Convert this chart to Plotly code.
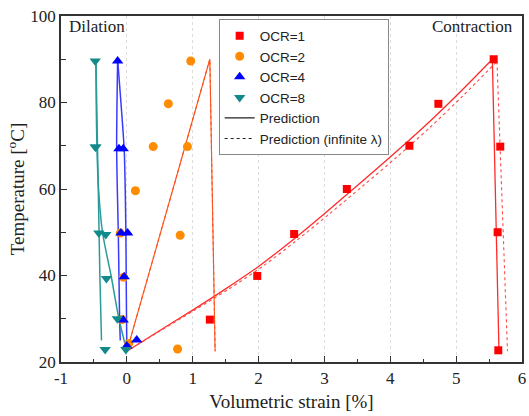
import plotly.graph_objects as go

# Measured volumetric strain [%] vs temperature [°C] for each OCR
ocr1_x = [1.26, 1.98, 2.54, 3.34, 4.29, 4.73, 5.57, 5.67, 5.63, 5.64]
ocr1_y = [29.8, 39.9, 49.6, 60.0, 70.0, 79.7, 90.0, 69.8, 50.0, 22.7]

ocr2_x = [0.03, -0.07, -0.05, -0.10, 0.13, 0.40, 0.63, 0.97, 0.92, 0.81, 0.77]
ocr2_y = [24.3, 29.8, 39.6, 49.8, 59.6, 69.8, 79.7, 89.6, 69.8, 49.3, 23.0]

ocr4_x = [0.00, 0.15, -0.056, -0.04, -0.09, 0.012, -0.12, -0.055, -0.14]
ocr4_y = [23.7, 25.1, 29.7, 39.7, 49.8, 49.8, 69.3, 69.3, 89.6]

ocr8_x = [-0.015, -0.33, -0.145, -0.31, -0.425, -0.32, -0.48, -0.47, -0.48]
ocr8_y = [22.9, 22.9, 30.0, 39.3, 49.8, 49.5, 69.7, 69.7, 89.6]

# Model predictions: heating branches (smooth) and cooling branches
heat1_x = [0, 0.5, 1.0, 1.5, 2.0, 2.5, 3.0, 3.5, 4.0, 4.5, 5.0, 5.55]
heat1_y = [22.5, 27.3, 32.0, 36.9, 42.1, 48.0, 54.3, 60.8, 67.4, 74.2, 81.5, 90.0]
cool1_x = [5.55, 5.65]
cool1_y = [90.0, 22.8]

heat1_inf_x = [0, 0.52, 1.03, 1.55, 2.06, 2.57, 3.08, 3.59, 4.1, 4.6, 5.1, 5.62]
heat1_inf_y = [22.5, 27.3, 32.0, 36.9, 42.1, 48.0, 54.3, 60.8, 67.4, 74.2, 81.5, 89.5]
cool1_inf_x = [5.62, 5.78]
cool1_inf_y = [89.5, 22.5]

pred2_x = [0, 1.26, 1.34]
pred2_y = [22.5, 90.0, 22.5]

heat4_x = [0, -0.005, -0.01, -0.015, -0.025, -0.04, -0.09, -0.14]
heat4_y = [22.5, 30, 40, 50, 60, 69, 80, 90]
cool4_x = [-0.14, -0.155, -0.145, -0.13, -0.11, -0.10]
cool4_y = [90, 70, 60, 50, 30, 25]

heat8_x = [0, -0.12, -0.24, -0.37, -0.43, -0.455, -0.465, -0.47]
heat8_y = [22.5, 30, 40, 50, 60, 70, 80, 90]
cool8_x = [-0.47, -0.45, -0.43, -0.41, -0.385]
cool8_y = [90, 70, 50, 40, 25]

x_ticks = [-1, 0, 1, 2, 3, 4, 5, 6]
y_ticks = [20, 40, 60, 80, 100]

RED = "#ff0000"
ORANGE = "#ff8c00"
BLUE = "#0000ff"
TEAL = "#138a8a"


def curve(x, y, color, width, dash="solid", smooth=False):
    return go.Scatter(x=x, y=y, mode="lines", showlegend=False, hoverinfo="skip",
                      line=dict(color=color, width=width, dash=dash,
                                shape="spline" if smooth else "linear",
                                smoothing=0.8))


fig = go.Figure()

# prediction curves first so the markers sit on top
fig.add_trace(curve(heat1_x, heat1_y, "#ff2a2a", 1.3, smooth=True))
fig.add_trace(curve(cool1_x, cool1_y, "#ff2a2a", 1.3))
fig.add_trace(curve(heat1_inf_x, heat1_inf_y, "#ff4a4a", 1.1, dash="dot", smooth=True))
fig.add_trace(curve(cool1_inf_x, cool1_inf_y, "#ff4a4a", 1.1, dash="dot"))
fig.add_trace(curve(pred2_x, pred2_y, "#ff4f1a", 1.1))
fig.add_trace(curve(pred2_x, pred2_y, "#ff4f1a", 1.1, dash="dot"))
fig.add_trace(curve(heat4_x, heat4_y, "#3a3aff", 1.5, smooth=True))
fig.add_trace(curve(cool4_x, cool4_y, "#3a3aff", 1.5, smooth=True))
fig.add_trace(curve(heat8_x, heat8_y, "#2a9a9a", 1.5, smooth=True))
fig.add_trace(curve(cool8_x, cool8_y, "#2a9a9a", 1.5))

fig.add_trace(go.Scatter(x=ocr1_x, y=ocr1_y, mode="markers", name="OCR=1",
                         marker=dict(symbol="square", size=8, color=RED)))
fig.add_trace(go.Scatter(x=ocr2_x, y=ocr2_y, mode="markers", name="OCR=2",
                         marker=dict(symbol="circle", size=9, color=ORANGE)))
fig.add_trace(go.Scatter(x=ocr4_x, y=ocr4_y, mode="markers", name="OCR=4",
                         marker=dict(symbol="triangle-up", size=10, color=BLUE)))
fig.add_trace(go.Scatter(x=ocr8_x, y=ocr8_y, mode="markers", name="OCR=8",
                         marker=dict(symbol="triangle-down", size=10, color=TEAL)))

# legend-only entries for the two prediction line styles
fig.add_trace(go.Scatter(x=[None], y=[None], mode="lines", name="Prediction",
                         line=dict(color="#222222", width=1.3)))
fig.add_trace(go.Scatter(x=[None], y=[None], mode="lines", name="Prediction (infinite λ)",
                         line=dict(color="#222222", width=1.1, dash="dot")))

serif = "Liberation Serif, Times New Roman, serif"
sans = "Liberation Sans, Arial, sans-serif"

axis_common = dict(
    showline=True, linecolor="#333333", linewidth=1.5, mirror=True,
    ticks="inside", tickcolor="#333333", ticklen=6, tickwidth=1.2,
    zeroline=False, tickfont=dict(family=serif, size=17, color="#222222"),
)

fig.update_xaxes(
    range=[-1, 6], tickvals=x_ticks, ticktext=[str(v) for v in x_ticks],
    showgrid=True, gridcolor="#dddddd", griddash="dot", gridwidth=1,
    minor=dict(ticks="inside", ticklen=3, tickcolor="#333333", dtick=0.5, showgrid=False),
    title=dict(text="Volumetric strain [%]", font=dict(family=serif, size=19, color="#222222"),
               standoff=8),
    **axis_common,
)
fig.update_yaxes(
    range=[20, 100], tickvals=y_ticks, ticktext=[str(v) for v in y_ticks],
    showgrid=False,
    minor=dict(ticks="inside", ticklen=5, tickcolor="#333333", dtick=10, showgrid=False),
    title=dict(text="Temperature [<sup>o</sup>C]", font=dict(family=serif, size=19, color="#222222"),
               standoff=1),
    **axis_common,
)

fig.add_annotation(text="Dilation", xref="paper", yref="paper", x=0.012, y=0.97,
                   xanchor="left", yanchor="middle", showarrow=False,
                   font=dict(family=serif, size=17, color="#222222"))
fig.add_annotation(text="Contraction", xref="paper", yref="paper", x=0.985, y=0.97,
                   xanchor="right", yanchor="middle", showarrow=False,
                   font=dict(family=serif, size=17, color="#222222"))

fig.update_layout(
    width=529, height=416,
    margin=dict(l=61, r=3, t=16, b=54),
    paper_bgcolor="white", plot_bgcolor="white",
    legend=dict(x=0.342, y=0.99, xanchor="left", yanchor="top",
                bgcolor="white", bordercolor="#888888", borderwidth=1,
                font=dict(family=sans, size=13.5, color="#222222"),
                tracegroupgap=0, itemwidth=30),
)

fig.write_html("out.html")
